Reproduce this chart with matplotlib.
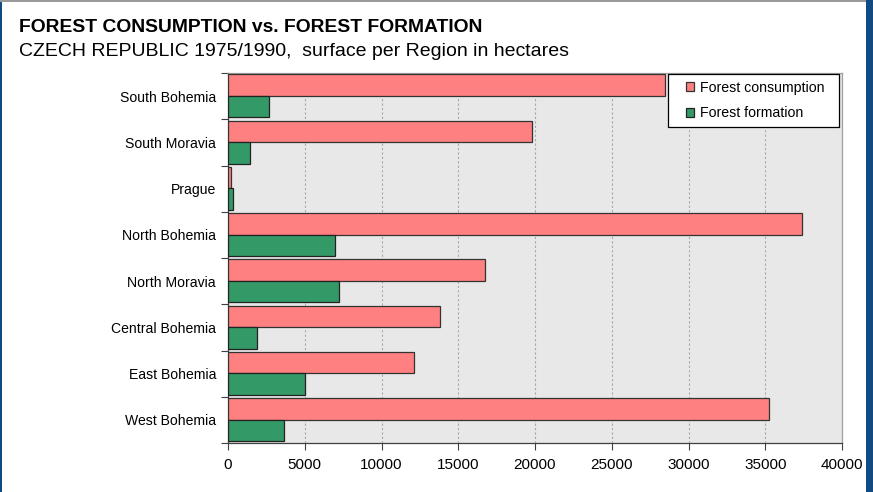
import matplotlib
matplotlib.use("Agg")
import matplotlib.pyplot as plt
from matplotlib.patches import Rectangle
import numpy as np

plt.rcParams['font.family'] = ['Liberation Sans', 'DejaVu Sans']

regions = ["South Bohemia", "South Moravia", "Prague", "North Bohemia",
           "North Moravia", "Central Bohemia", "East Bohemia", "West Bohemia"]
consumption = [28500, 19800, 200, 37400, 16750, 13800, 12100, 35250]
formation = [2700, 1450, 350, 7000, 7200, 1900, 5000, 3650]
xticks = [0, 5000, 10000, 15000, 20000, 25000, 30000, 35000, 40000]

W, H = 873, 492
fig = plt.figure(figsize=(W / 100, H / 100), dpi=100)
fig.patch.set_facecolor("white")

# frame decorations: blue edge right/left, grey line on top
fig.add_artist(Rectangle((866 / W, 0), 7 / W, 1, transform=fig.transFigure,
                         facecolor="#124a85", edgecolor="none"))
fig.add_artist(Rectangle((0, 0), 2 / W, 1, transform=fig.transFigure,
                         facecolor="#124a85", edgecolor="none"))
fig.add_artist(Rectangle((0, 1 - 2 / H), 866 / W, 2 / H, transform=fig.transFigure,
                         facecolor="#9a9a9a", edgecolor="none"))

fig.text(19 / W, 1 - 32 / H, "FOREST CONSUMPTION vs. FOREST FORMATION",
         fontsize=13.9, fontweight="bold", va="baseline", ha="left")
fig.text(19 / W, 1 - 56 / H, "CZECH REPUBLIC 1975/1990,  surface per Region in hectares",
         fontsize=14, va="baseline", ha="left")

left, right = 228 / W, 842 / W
top, bottom = 1 - 73 / H, 1 - 443 / H
ax = fig.add_axes([left, bottom, right - left, top - bottom])
ax.set_facecolor("#e8e8e8")

n = len(regions)
pos = np.arange(n)[::-1].astype(float)
h = 0.465
ax.barh(pos + h / 2 + 0.005, consumption, height=h, color="#ff8080",
        edgecolor="#333333", linewidth=0.9, label="Forest consumption", zorder=3)
ax.barh(pos - h / 2 + 0.005, formation, height=h, color="#339966",
        edgecolor="#222222", linewidth=0.9, label="Forest formation", zorder=3)

ax.set_xlim(0, 40000)
ax.set_ylim(-0.5, n - 0.5)
ax.set_xticks(xticks)
ax.set_xticklabels([str(v) for v in xticks], fontsize=11)
ax.xaxis.grid(True, color="#a8a8a8", linestyle=(0, (2, 2)), linewidth=0.8, zorder=1)

ax.set_yticks(pos)
ax.set_yticklabels(regions, fontsize=10.1)
ax.tick_params(axis="y", length=0, pad=8.6)
ax.set_yticks(np.arange(-0.5, n, 1.0), minor=True)
ax.tick_params(axis="y", which="minor", length=5, color="#404040", width=0.8)
ax.tick_params(axis="x", length=5, color="#404040", width=0.8, pad=6)

for s in ["left", "bottom"]:
    ax.spines[s].set_color("#404040")
    ax.spines[s].set_linewidth(0.9)
for s in ["right", "top"]:
    ax.spines[s].set_color("#a0a0a0")
    ax.spines[s].set_linewidth(0.9)

# legend box with its entries placed inside
fig.add_artist(Rectangle((668 / W, 1 - 127 / H), 171 / W, 53 / H,
                         transform=fig.transFigure, facecolor="white",
                         edgecolor="black", linewidth=0.9, zorder=5))
handles, labels = ax.get_legend_handles_labels()
leg = fig.legend(handles, labels, loc="center left",
                 bbox_to_anchor=(686 / W, 1 - 100.5 / H),
                 fontsize=10.2, frameon=False, handlelength=0.55,
                 handleheight=0.55, handletextpad=0.45, borderpad=0,
                 labelspacing=0.83, borderaxespad=0)
leg.set_zorder(6)

fig.savefig("out.png", dpi=100)
